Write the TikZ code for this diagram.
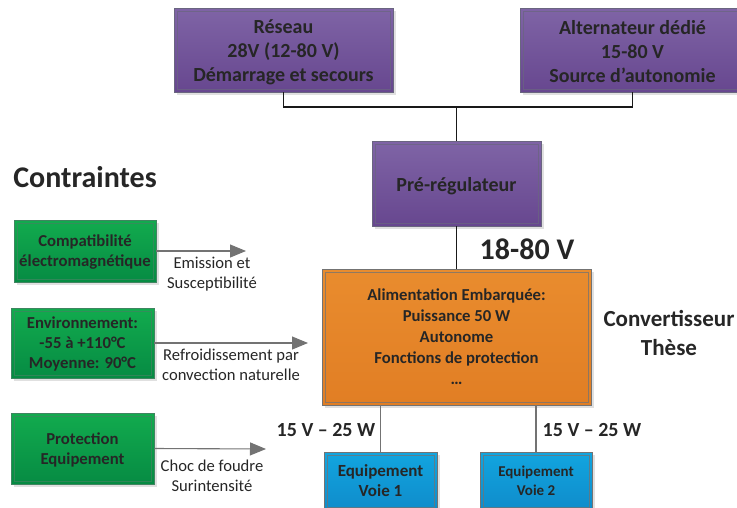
\documentclass[tikz,border=0pt]{standalone}
\usepackage{fontspec}
\setmainfont{Carlito}
\usetikzlibrary{arrows.meta,shadows,calc}
\definecolor{txt}{HTML}{262626}
\definecolor{violetT}{HTML}{7F64A6}
\definecolor{violetB}{HTML}{67478F}
\definecolor{violetL}{HTML}{6A6580}
\definecolor{greenT}{HTML}{12AB4E}
\definecolor{greenB}{HTML}{068B43}
\definecolor{greenL}{HTML}{3F8560}
\definecolor{orangeT}{HTML}{E98C2E}
\definecolor{orangeB}{HTML}{E17E24}
\definecolor{blueT}{HTML}{12A5DF}
\definecolor{blueB}{HTML}{0F8CCB}
\tikzset{
  x=1pt,y=-1pt,
  boxbase/.style={draw=#1,line width=0.9pt,align=center,text=txt,inner sep=0pt,
    drop shadow={shadow xshift=3pt,shadow yshift=-3pt,fill=black!12,opacity=1},
    path picture={
      \draw[#1,draw opacity=0.75,line width=0.5pt] ($(path picture bounding box.north west)+(2.8,2.8)$) rectangle ($(path picture bounding box.south east)+(-2.8,-2.8)$);
    }},
  firstline/.style={execute at begin node={\rule{0pt}{#1}}},
  purplebox/.style={boxbase=violetL,top color=violetT,bottom color=violetB,minimum width=219pt,font=\bfseries\fontsize{20}{24}\selectfont},
  greenbox/.style={boxbase=greenL,top color=greenT,bottom color=greenB,font=\bfseries\fontsize{16.7}{20}\selectfont},
  orangebox/.style={boxbase=black!55,top color=orangeT,bottom color=orangeB,font=\bfseries\fontsize{16.7}{21}\selectfont},
  bluebox/.style={boxbase=black!55,top color=blueT,bottom color=blueB,font=\bfseries\fontsize{17}{20}\selectfont},
  purpletext/.style={align=center,text=txt,inner sep=0pt,yshift=-2pt,font=\bfseries\fontsize{20}{24}\selectfont},
  greentext/.style={align=center,text=txt,inner sep=0pt,yshift=-1pt,font=\bfseries\fontsize{16.7}{20}\selectfont},
  busline/.style={draw=black!90,line width=1.4pt},
  outline/.style={draw=black!55,line width=1.4pt},
  arrowline/.style={draw=black!55,line width=1.1pt,-{Triangle[length=16pt,width=13pt]}},
  caption/.style={align=center,text=txt,inner sep=0pt,font=\fontsize{16.6}{20.5}\selectfont},
  heading/.style={align=center,text=txt,inner sep=0pt,font=\bfseries\fontsize{23}{29}\selectfont},
}
\begin{document}
\begin{tikzpicture}
\useasboundingbox (0,0) rectangle (737,507);
\node[purplebox,minimum height=84pt,label={[purpletext]center:{Réseau\\28V (12-80 V)\\Démarrage et secours}}] (res) at (283.5,50) {};
\node[purplebox,minimum width=225pt,minimum height=84pt,label={[purpletext]center:{Alternateur dédié\\15-80 V\\Source d’autonomie}}] (alt) at (632.5,50) {};
\node[purplebox,firstline=19pt,minimum width=169pt,minimum height=85pt] (pre) at (456.5,183.5) {Pré-régulateur};
\node[orangebox,minimum width=269pt,minimum height=136pt] (ali) at (456.5,337) {Alimentation Embarquée:\\Puissance 50 W\\Autonome\\Fonctions de protection\\…};
\node[greenbox,minimum width=142pt,minimum height=62pt,label={[greentext]center:{Compatibilité\\électromagnétique}}] (g1) at (85,251) {};
\node[greenbox,minimum width=143pt,minimum height=70pt,label={[greentext,yshift=0.5pt]center:{Environnement:\\-55 à +110°C\\Moyenne: 90°C}}] (g2) at (82.5,343) {};
\node[greenbox,minimum width=143pt,minimum height=71pt,label={[greentext]center:{Protection\\Equipement}}] (g3) at (82.5,448.5) {};
\node[bluebox,minimum width=113pt,minimum height=58pt] (b1) at (380.5,481) {Equipement\\Voie 1};
\node[bluebox,minimum width=112pt,minimum height=58pt,font=\bfseries\fontsize{15}{19}\selectfont] (b2) at (536,481) {Equipement\\Voie 2};
\coordinate (junc) at (456.5,107);
\coordinate (a1) at (246,251);
\coordinate (a2) at (308,343);
\coordinate (a3) at (266,449);
\draw[busline] (res.south) |- (junc);
\draw[busline] (alt.south) |- (junc);
\draw[busline] (junc) -- (pre.north);
\draw[busline] (pre.south) -- (ali.north);
\draw[outline] (ali.south -| b1.north) -- (b1.north);
\draw[outline] (ali.south -| b2.north) -- (b2.north);
\draw[arrowline] (g1.east) -- (a1);
\draw[arrowline] (g2.east) -- (a2);
\draw[arrowline] (g3.east) -- (a3);
\node[heading,font=\bfseries\fontsize{30}{32}\selectfont] (t1) at (85,177) {Contraintes};
\node[heading,font=\bfseries\fontsize{30}{30}\selectfont] (t2) at (527,249) {18-80 V};
\node[heading] (t3) at (669,333) {Convertisseur\\Thèse};
\node[heading,font=\bfseries\fontsize{20}{22}\selectfont] (t4) at (326,430) {15 V – 25 W};
\node[heading,font=\bfseries\fontsize{20}{22}\selectfont] (t5) at (592,430) {15 V – 25 W};
\node[caption] (c1) at (212,274) {Emission et\\Susceptibilité};
\node[caption] (c2) at (231,365) {Refroidissement par\\convection naturelle};
\node[caption] (c3) at (212,476) {Choc de foudre\\Surintensité};
\end{tikzpicture}
\end{document}
